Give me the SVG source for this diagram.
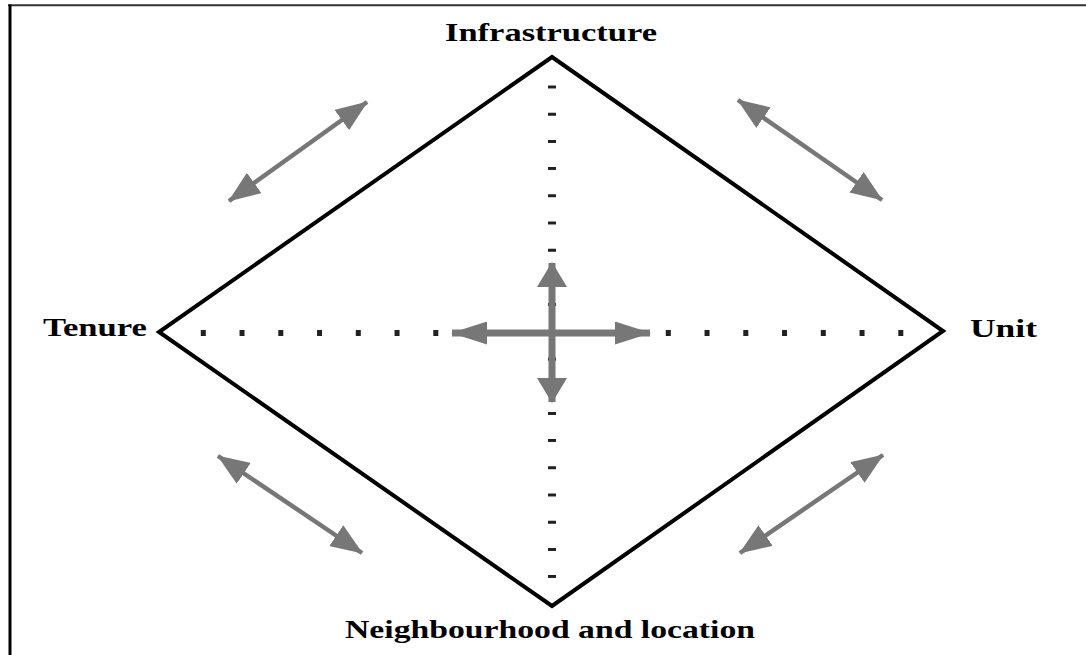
<svg xmlns="http://www.w3.org/2000/svg" width="1086" height="655" viewBox="0 0 1086 655">
<style>
.lbl{font-family:"Liberation Serif","Times New Roman",serif;font-weight:bold;fill:#000}
.dia{fill:none;stroke:#000;stroke-width:4;stroke-linejoin:miter}
.dots{fill:none;stroke:#222}
.arr{fill:none;stroke:#777;stroke-width:4.5}
.cross{fill:none;stroke:#777;stroke-width:7}
</style>
<defs>
<marker id="hd" markerUnits="userSpaceOnUse" markerWidth="32" markerHeight="25" refX="31" refY="12.5" orient="auto-start-reverse" viewBox="0 0 32 25">
<path d="M0,0 L32,12.5 L0,25 z" fill="#777"/>
</marker>
<marker id="hv" markerUnits="userSpaceOnUse" markerWidth="25" markerHeight="30" refX="24" refY="15" orient="auto-start-reverse" viewBox="0 0 25 30">
<path d="M0,0 L25,15 L0,30 z" fill="#777"/>
</marker>
<marker id="hh" markerUnits="userSpaceOnUse" markerWidth="36" markerHeight="23" refX="35" refY="11.5" orient="auto-start-reverse" viewBox="0 0 36 23">
<path d="M0,0 L36,11.5 L0,23 z" fill="#777"/>
</marker>
</defs>
<rect width="1086" height="655" fill="#fff"/>
<g id="frame">
<line x1="8" y1="5.3" x2="1086" y2="5.3" stroke="#333" stroke-width="2"/>
<line x1="10" y1="4.5" x2="10" y2="655" stroke="#000" stroke-width="3"/>
</g>
<g id="diamond">
<path class="dia" d="M552,57 L943,331 L552,606 L159,332 Z"/>
</g>
<g id="axes">
<line class="dots" x1="552" y1="85.5" x2="552" y2="582" stroke-width="8" stroke-dasharray="3 24.2"/>
<line class="dots" x1="200.8" y1="333" x2="905" y2="333" stroke-width="6" stroke-dasharray="5 33.75"/>
</g>
<g id="connectors">
<line class="arr" x1="229" y1="201" x2="367" y2="102" marker-start="url(#hd)" marker-end="url(#hd)"/>
<line class="arr" x1="738" y1="100" x2="882" y2="200" marker-start="url(#hd)" marker-end="url(#hd)"/>
<line class="arr" x1="218" y1="456" x2="362" y2="553" marker-start="url(#hd)" marker-end="url(#hd)"/>
<line class="arr" x1="740" y1="553" x2="883" y2="455" marker-start="url(#hd)" marker-end="url(#hd)"/>
<line class="cross" x1="552" y1="263" x2="552" y2="402" marker-start="url(#hv)" marker-end="url(#hv)"/>
<line class="cross" x1="452" y1="333" x2="650" y2="333" stroke-width="6" marker-start="url(#hh)" marker-end="url(#hh)"/>
</g>
<g id="node-infrastructure"><text class="lbl" x="445" y="41" font-size="25" textLength="212" lengthAdjust="spacingAndGlyphs">Infrastructure</text></g>
<g id="node-tenure"><text class="lbl" x="43" y="336" font-size="25" textLength="104" lengthAdjust="spacingAndGlyphs">Tenure</text></g>
<g id="node-unit"><text class="lbl" x="970" y="337" font-size="25" textLength="67" lengthAdjust="spacingAndGlyphs">Unit</text></g>
<g id="node-neighbourhood"><text class="lbl" x="345" y="638" font-size="25" textLength="410" lengthAdjust="spacingAndGlyphs">Neighbourhood and location</text></g>
</svg>
